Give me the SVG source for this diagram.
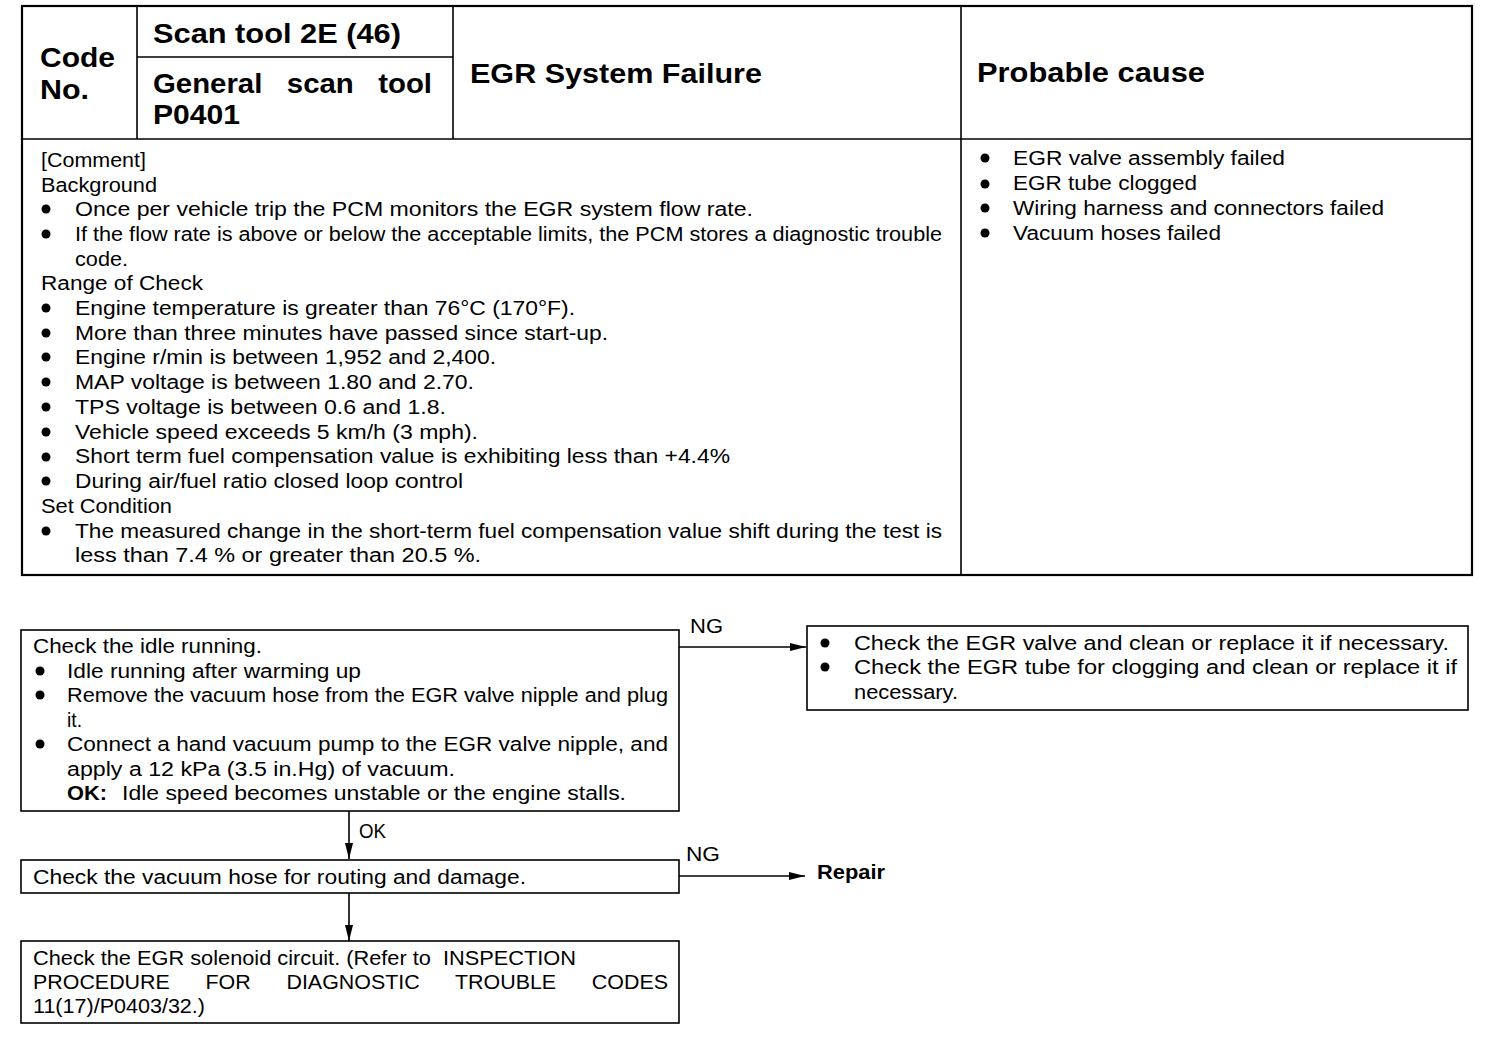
<svg xmlns="http://www.w3.org/2000/svg" width="1504" height="1048" viewBox="0 0 1504 1048">
<style>
.t{font-family:"Liberation Sans",Arial,sans-serif;font-size:20px;fill:#000}
.b{font-family:"Liberation Sans",Arial,sans-serif;font-weight:bold;fill:#000}
.h{font-size:28px}
.pre{white-space:pre}
.box{fill:#fff;stroke:#000;stroke-width:1.6}
.ln{stroke:#000;stroke-width:1.6;fill:none}
.out{fill:none;stroke:#000;stroke-width:2.2}
.dot{fill:#000}
</style>
<defs>
<marker id="arr" markerWidth="18" markerHeight="10" refX="16" refY="5" orient="auto" markerUnits="userSpaceOnUse">
<path d="M0,1 L16,5 L0,9 Z" fill="#000"/>
</marker>
</defs>
<rect width="1504" height="1048" fill="#fff"/>

<g id="table">
<rect class="out" x="22" y="6" width="1450" height="569"/>
<line class="ln" x1="22" y1="139" x2="1472" y2="139"/>
<line class="ln" x1="137" y1="6" x2="137" y2="139"/>
<line class="ln" x1="137" y1="57" x2="453" y2="57"/>
<line class="ln" x1="453" y1="6" x2="453" y2="139"/>
<line class="ln" x1="961" y1="6" x2="961" y2="575"/>
</g>

<g id="header">
<text class="b h" x="40" y="67" textLength="75" lengthAdjust="spacingAndGlyphs">Code</text>
<text class="b h" x="40" y="99" textLength="49" lengthAdjust="spacingAndGlyphs">No.</text>
<text class="b h" x="153" y="43" textLength="248" lengthAdjust="spacingAndGlyphs">Scan tool 2E (46)</text>
<text class="b h pre" xml:space="preserve" x="153" y="93" textLength="279" lengthAdjust="spacingAndGlyphs">General   scan   tool</text>
<text class="b h" x="153" y="124" textLength="87" lengthAdjust="spacingAndGlyphs">P0401</text>
<text class="b h" x="470" y="83" textLength="292" lengthAdjust="spacingAndGlyphs">EGR System Failure</text>
<text class="b h" x="977" y="82" textLength="228" lengthAdjust="spacingAndGlyphs">Probable cause</text>
</g>

<g id="comment">
<text class="t" x="41" y="167" textLength="105" lengthAdjust="spacingAndGlyphs">[Comment]</text>
<text class="t" x="41" y="192" textLength="116" lengthAdjust="spacingAndGlyphs">Background</text>
<circle class="dot" cx="46" cy="209" r="4.5"/>
<text class="t" x="75" y="216" textLength="678" lengthAdjust="spacingAndGlyphs">Once per vehicle trip the PCM monitors the EGR system flow rate.</text>
<circle class="dot" cx="46" cy="234" r="4.5"/>
<text class="t" x="75" y="241" textLength="867" lengthAdjust="spacingAndGlyphs">If the flow rate is above or below the acceptable limits, the PCM stores a diagnostic trouble</text>
<text class="t" x="75" y="266" textLength="53" lengthAdjust="spacingAndGlyphs">code.</text>
<text class="t" x="41" y="290" textLength="162" lengthAdjust="spacingAndGlyphs">Range of Check</text>
<circle class="dot" cx="46" cy="308" r="4.5"/>
<text class="t" x="75" y="315" textLength="500" lengthAdjust="spacingAndGlyphs">Engine temperature is greater than 76°C (170°F).</text>
<circle class="dot" cx="46" cy="333" r="4.5"/>
<text class="t" x="75" y="340" textLength="533" lengthAdjust="spacingAndGlyphs">More than three minutes have passed since start-up.</text>
<circle class="dot" cx="46" cy="357" r="4.5"/>
<text class="t" x="75" y="364" textLength="421" lengthAdjust="spacingAndGlyphs">Engine r/min is between 1,952 and 2,400.</text>
<circle class="dot" cx="46" cy="382" r="4.5"/>
<text class="t" x="75" y="389" textLength="399" lengthAdjust="spacingAndGlyphs">MAP voltage is between 1.80 and 2.70.</text>
<circle class="dot" cx="46" cy="407" r="4.5"/>
<text class="t" x="75" y="414" textLength="371" lengthAdjust="spacingAndGlyphs">TPS voltage is between 0.6 and 1.8.</text>
<circle class="dot" cx="46" cy="432" r="4.5"/>
<text class="t" x="75" y="439" textLength="403" lengthAdjust="spacingAndGlyphs">Vehicle speed exceeds 5 km/h (3 mph).</text>
<circle class="dot" cx="46" cy="457" r="4.5"/>
<text class="t" x="75" y="463" textLength="655" lengthAdjust="spacingAndGlyphs">Short term fuel compensation value is exhibiting less than +4.4%</text>
<circle class="dot" cx="46" cy="481" r="4.5"/>
<text class="t" x="75" y="488" textLength="388" lengthAdjust="spacingAndGlyphs">During air/fuel ratio closed loop control</text>
<text class="t" x="41" y="513" textLength="131" lengthAdjust="spacingAndGlyphs">Set Condition</text>
<circle class="dot" cx="46" cy="531" r="4.5"/>
<text class="t" x="75" y="538" textLength="867" lengthAdjust="spacingAndGlyphs">The measured change in the short-term fuel compensation value shift during the test is</text>
<text class="t" x="75" y="562" textLength="406" lengthAdjust="spacingAndGlyphs">less than 7.4 % or greater than 20.5 %.</text>
</g>

<g id="causes">
<circle class="dot" cx="985" cy="158" r="4.5"/>
<text class="t" x="1013" y="165" textLength="272" lengthAdjust="spacingAndGlyphs">EGR valve assembly failed</text>
<circle class="dot" cx="985" cy="184" r="4.5"/>
<text class="t" x="1013" y="190" textLength="184" lengthAdjust="spacingAndGlyphs">EGR tube clogged</text>
<circle class="dot" cx="985" cy="208" r="4.5"/>
<text class="t" x="1013" y="215" textLength="371" lengthAdjust="spacingAndGlyphs">Wiring harness and connectors failed</text>
<circle class="dot" cx="985" cy="233" r="4.5"/>
<text class="t" x="1013" y="240" textLength="208" lengthAdjust="spacingAndGlyphs">Vacuum hoses failed</text>
</g>

<g id="connectors">
<line class="ln" x1="679" y1="647" x2="806" y2="647" marker-end="url(#arr)"/>
<line class="ln" x1="349" y1="811" x2="349" y2="859" marker-end="url(#arr)"/>
<line class="ln" x1="679" y1="876" x2="805" y2="876" marker-end="url(#arr)"/>
<line class="ln" x1="349" y1="893" x2="349" y2="941" marker-end="url(#arr)"/>
<text class="t" x="690" y="633" textLength="33" lengthAdjust="spacingAndGlyphs">NG</text>
<text class="t" x="359" y="838" textLength="27" lengthAdjust="spacingAndGlyphs">OK</text>
<text class="t" x="686" y="861" textLength="34" lengthAdjust="spacingAndGlyphs">NG</text>
</g>

<g id="check-idle">
<rect class="box" x="21" y="630" width="658" height="181"/>
<text class="t" x="33" y="653" textLength="229" lengthAdjust="spacingAndGlyphs">Check the idle running.</text>
<circle class="dot" cx="40" cy="671" r="4.5"/>
<text class="t" x="67" y="678" textLength="294" lengthAdjust="spacingAndGlyphs">Idle running after warming up</text>
<circle class="dot" cx="40" cy="695" r="4.5"/>
<text class="t" x="67" y="702" textLength="601" lengthAdjust="spacingAndGlyphs">Remove the vacuum hose from the EGR valve nipple and plug</text>
<text class="t" x="67" y="727" textLength="15" lengthAdjust="spacingAndGlyphs">it.</text>
<circle class="dot" cx="40" cy="744" r="4.5"/>
<text class="t" x="67" y="751" textLength="601" lengthAdjust="spacingAndGlyphs">Connect a hand vacuum pump to the EGR valve nipple, and</text>
<text class="t" x="67" y="776" textLength="388" lengthAdjust="spacingAndGlyphs">apply a 12 kPa (3.5 in.Hg) of vacuum.</text>
<text class="b" font-size="20" x="67" y="800" textLength="40" lengthAdjust="spacingAndGlyphs">OK:</text>
<text class="t" x="122" y="800" textLength="504" lengthAdjust="spacingAndGlyphs">Idle speed becomes unstable or the engine stalls.</text>
</g>

<g id="check-egr-valve">
<rect class="box" x="807" y="626" width="661" height="84"/>
<circle class="dot" cx="825" cy="643" r="4.5"/>
<text class="t" x="854" y="650" textLength="595" lengthAdjust="spacingAndGlyphs">Check the EGR valve and clean or replace it if necessary.</text>
<circle class="dot" cx="825" cy="667" r="4.5"/>
<text class="t" x="854" y="674" textLength="603" lengthAdjust="spacingAndGlyphs">Check the EGR tube for clogging and clean or replace it if</text>
<text class="t" x="854" y="699" textLength="104" lengthAdjust="spacingAndGlyphs">necessary.</text>
</g>

<g id="check-hose">
<rect class="box" x="21" y="860" width="658" height="33"/>
<text class="t" x="33" y="884" textLength="493" lengthAdjust="spacingAndGlyphs">Check the vacuum hose for routing and damage.</text>
</g>

<g id="repair">
<text class="b" font-size="20" x="817" y="879" textLength="68" lengthAdjust="spacingAndGlyphs">Repair</text>
</g>

<g id="check-solenoid">
<rect class="box" x="21" y="941" width="658" height="82"/>
<text class="t pre" xml:space="preserve" x="33" y="965" textLength="543" lengthAdjust="spacingAndGlyphs">Check the EGR solenoid circuit. (Refer to  INSPECTION</text>
<text class="t pre" xml:space="preserve" x="33" y="989" textLength="635" lengthAdjust="spacingAndGlyphs">PROCEDURE      FOR      DIAGNOSTIC      TROUBLE      CODES</text>
<text class="t" x="33" y="1013" textLength="172" lengthAdjust="spacingAndGlyphs">11(17)/P0403/32.)</text>
</g>
</svg>
